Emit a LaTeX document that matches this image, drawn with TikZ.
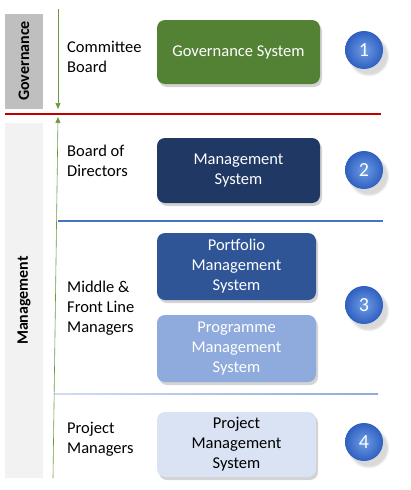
\documentclass[tikz,border=0pt]{standalone}
\usepackage{fontspec}
\setmainfont{Carlito}
\usepackage{tikz}
\usetikzlibrary{positioning,arrows.meta,shadows}

\definecolor{govgreen}{HTML}{548235}
\definecolor{arrgreen}{HTML}{6A9A3C}
\definecolor{govgrey}{HTML}{BFBFBF}
\definecolor{mgtgrey}{HTML}{F2F2F2}
\definecolor{splitred}{HTML}{C00000}
\definecolor{splitblue}{HTML}{4472C4}
\definecolor{mgtnavy}{HTML}{203864}
\definecolor{portblue}{HTML}{2F5597}
\definecolor{progblue}{HTML}{8FAADC}
\definecolor{projblue}{HTML}{DAE3F3}
\definecolor{numlight}{HTML}{6E9DE6}
\definecolor{numdark}{HTML}{2F5FC0}

\begin{document}
\begin{tikzpicture}[x=1pt, y=-1pt,
  lvl/.style={align=left, anchor=west, inner sep=0pt, font=\fontsize{16.5}{20}\selectfont},
  tier/.style={rotate=90, font=\fontsize{16}{18}\selectfont\bfseries, minimum height=38pt, inner sep=0pt},
  sysbox/.style={rounded corners=8pt, align=center, font=\fontsize{16.5}{20}\selectfont, text=white, drop shadow={opacity=0.35, shadow xshift=2pt, shadow yshift=-3pt}},
  num/.style={circle, minimum size=38pt, inner sep=0pt, inner color=numlight, outer color=numdark, text=white, font=\fontsize{20}{22}\selectfont, circular drop shadow={opacity=0.3, shadow xshift=4pt, shadow yshift=-5pt}},
  arr/.style={-{Triangle[length=6pt, width=5pt]}, draw=arrgreen, semithick}]
\useasboundingbox (0,0) rectangle (410,490);

% tier bars
\node[tier, fill=govgrey, minimum width=95pt] (govbar) at (24,61) {Governance};
\node[tier, fill=mgtgrey, minimum width=355pt] (mgtbar) at (24,300.5) {Management};

% separators
\draw[splitred, line width=2pt] (5,114) -- (381,114);
\draw[splitblue, line width=1.2pt] (58,221) -- (383,221);
\shade[left color=progblue!40, right color=progblue] (54,393.4) rectangle (378,394.6);

% authority arrows
\coordinate (govtop) at (58,9);
\coordinate (govend) at (58,109);
\coordinate (mgtbot) at (53,478);
\coordinate (mgtend) at (58,117);
\draw[arr] (govtop) -- (govend);
\draw[arr] (mgtbot) -- (mgtend);

% levels
\node[lvl] (cb) at (67,57) {Committee\\Board};
\node[lvl] (bd) at (67,160.5) {Board of\\Directors};
\node[lvl] (mf) at (67,308) {Middle \&\\Front Line\\Managers};
\node[lvl] (pm) at (67,439.5) {Project\\Managers};

% systems
\node[sysbox, fill=govgreen, minimum width=163pt, minimum height=64pt] (gov) at (238.5,52) {Governance System};
\node[sysbox, fill=mgtnavy, minimum width=163pt, minimum height=65pt] (mgt) at (238.5,170.5) {Management\\System};
\node[sysbox, fill=portblue, minimum width=159pt, minimum height=67pt] (port) at (236.5,266.5) {Portfolio\\Management\\System};
\node[sysbox, fill=progblue, minimum width=159pt, minimum height=67pt] (prog) at (236.5,348.5) {Programme\\Management\\System};
\node[sysbox, fill=projblue, text=black, minimum width=159pt, minimum height=65pt] (proj) at (236.5,444.5) {Project\\Management\\System};

% numbers
\node[num] (n1) at (364,50) {1};
\node[num] (n2) at (364,170) {2};
\node[num] (n3) at (364,305) {3};
\node[num] (n4) at (364,442) {4};
\end{tikzpicture}
\end{document}
